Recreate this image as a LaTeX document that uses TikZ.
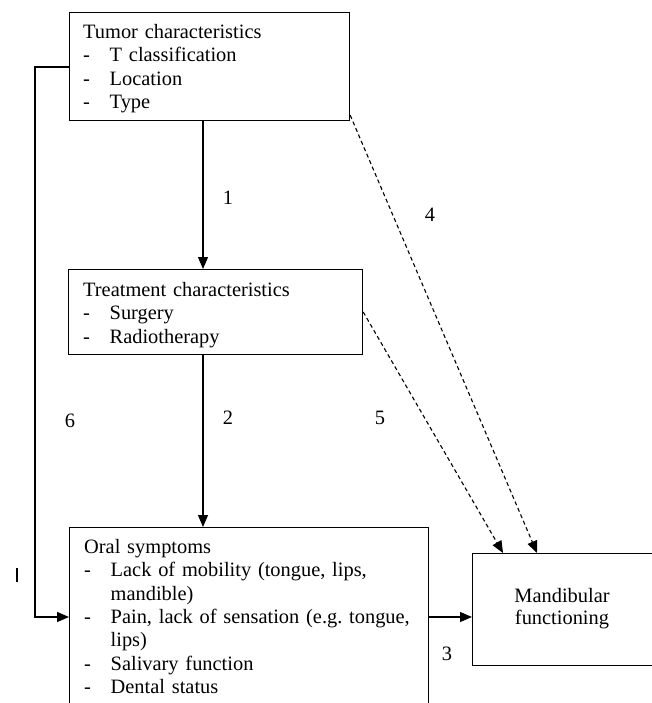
\documentclass[tikz,border=0pt]{standalone}
\usepackage{fontspec}
\setmainfont{Liberation Serif}
\usetikzlibrary{arrows.meta}
\frenchspacing
\begin{document}
\begin{tikzpicture}[x=1pt,y=-1pt,
  box/.style={draw, line width=1.2pt, anchor=north west, inner sep=0pt},
  txt/.style={anchor=north west, inner sep=0pt, align=left, text width=#1,
    font=\fontsize{20.4}{23.4}\selectfont},
  lbl/.style={anchor=base, inner sep=0pt, font=\fontsize{20.4}{23.4}\selectfont},
  arr/.style={line width=1.2pt, -{Triangle[length=12pt,width=10pt]}},
  darr/.style={line width=1.1pt, dash pattern=on 4pt off 3pt, -{Triangle[length=12pt,width=10pt]}}]
\useasboundingbox (0,0) rectangle (652,703);
\newcommand{\dsh}{\makebox[26.5pt][l]{-}}
% boxes
\node[box, minimum width=280pt, minimum height=108pt] (tumor) at (69,12) {};
\node[box, minimum width=294pt, minimum height=85pt] (treat) at (68,269) {};
\node[box, minimum width=359pt, minimum height=180pt] (oral) at (69,527) {};
\node[box, minimum width=182pt, minimum height=112pt] (mand) at (472,553) {};
% texts
\node[txt=260pt] (tumtxt) at (83,24) {Tumor characteristics\\ \dsh T classification\\ \dsh Location\\ \dsh Type};
\node[txt=275pt] (trttxt) at (83,282) {Treatment characteristics\\ \dsh Surgery\\ \dsh Radiotherapy};
\node[txt=340pt] (oraltxt) at (84,539) {Oral symptoms\\ \dsh Lack of mobility (tongue, lips,\\ \hspace*{26.5pt}mandible)\\ \dsh Pain, lack of sensation (e.g. tongue,\\ \hspace*{26.5pt}lips)\\ \dsh Salivary function\\ \dsh Dental status};
\node[anchor=north, inner sep=0pt, align=center, text width=170pt, font=\fontsize{20.4}{21.8}\selectfont] (mandtxt) at (562,588) {Mandibular\\functioning};
% labels
\node[lbl] (l1) at (228,205) {1};
\node[lbl] (l4) at (430,222) {4};
\node[lbl] (l6) at (70,427) {6};
\node[lbl] (l2) at (228,424) {2};
\node[lbl] (l5) at (380,424) {5};
\node[lbl] (l3) at (447,660) {3};
% connector coordinates
\coordinate (cx) at (203,0);
\coordinate (lx) at (35,0);
\coordinate (ly1) at (0,67);
\coordinate (ly2) at (0,617);
% solid arrows
\draw[arr] (tumor.south -| cx) -- (treat.north -| cx);
\draw[arr] (treat.south -| cx) -- (oral.north -| cx);
\draw[arr] (tumor.west |- ly1) -- (lx |- ly1) -- (lx |- ly2) -- (oral.west |- ly2);
\draw[arr] (oral.east |- ly2) -- (mand.west |- ly2);
% dashed arrows
\draw[darr] ([yshift=6pt]tumor.south east) -- ([xshift=65pt]mand.north west);
\draw[darr] ([yshift=-43pt]treat.north east) -- ([xshift=31pt]mand.north west);
% stray mark
\draw[line width=1.5pt] (17,568) -- (17,582);
\end{tikzpicture}
\end{document}
